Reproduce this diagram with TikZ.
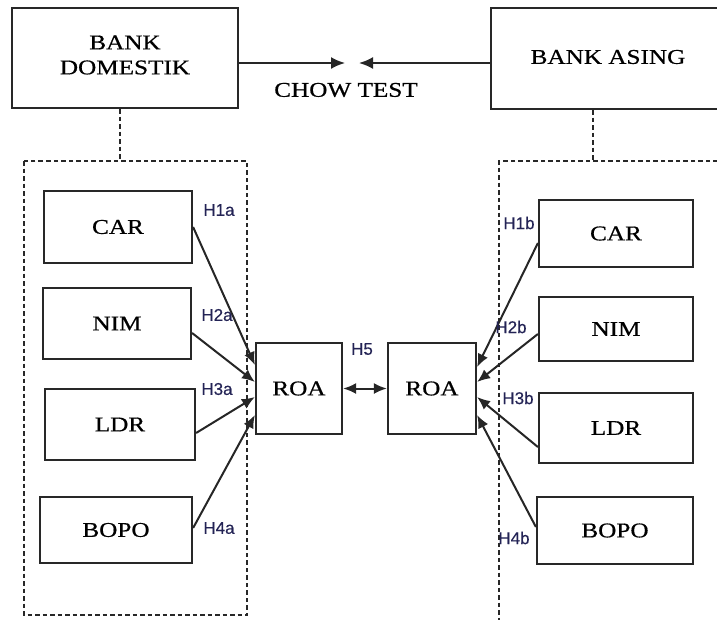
\documentclass[tikz,border=0pt]{standalone}
\usepackage{fontspec}
\setmainfont{Liberation Serif}[FakeStretch=1.2,FakeBold=0.6]
\newfontfamily\hfont{Liberation Sans}[FakeBold=0.3]
\usetikzlibrary{arrows.meta}
\definecolor{hcol}{RGB}{35,35,85}
\definecolor{edgecol}{RGB}{40,40,40}
\tikzset{
  box/.style={draw=edgecol, line width=2.2pt, inner sep=0pt, font=\fontsize{21}{25}\selectfont},
  btext/.style={inner sep=0pt, align=center, font=\fontsize{21}{25}\selectfont},
  grp/.style={draw=edgecol, line width=2pt, dash pattern=on 4.5pt off 3pt},
  hl/.style={font=\hfont\fontsize{17}{20}\selectfont, text=hcol, inner sep=0pt},
  conn/.style={draw=black!85, line width=2pt, -{Latex[length=13pt,width=11pt]}},
  conn2/.style={draw=black!85, line width=2pt, {Latex[length=13pt,width=11pt]}-{Latex[length=13pt,width=11pt]}},
}
\begin{document}
\begin{tikzpicture}[x=1pt,y=-1pt]
\useasboundingbox (0,0) rectangle (717,619);
% top boxes
\node[box, minimum width=226pt, minimum height=100pt] (bd) at (125,58) {};
\node[btext] (bdt) at (125,55) {BANK\\DOMESTIK};
\node[box, minimum width=254pt, minimum height=101pt] (ba) at (618,58.5) {};
\node[btext] (bat) at (608,57) {BANK ASING};
\coordinate (chowL) at (345,63);
\coordinate (chowR) at (359,63);
\draw[conn, -{Latex[length=14pt,width=12pt]}] (bd.east |- chowL) -- (chowL);
\draw[conn, -{Latex[length=14pt,width=12pt]}] (ba.west |- chowR) -- (chowR);
\node[btext] (chow) at (346,90) {CHOW TEST};
% group frames
\coordinate (gl) at (120,161);
\coordinate (gr) at (593,161);
\draw[grp] (bd.south -| gl) -- (gl);
\draw[grp] (ba.south -| gr) -- (gr);
\draw[grp] (24,161) rectangle (247,615);
\draw[grp] (725,161) -- (499,161) -- (499,630);
% left variables
\node[box, minimum width=148pt, minimum height=72pt] (carL) at (118,227) {CAR};
\node[box, minimum width=148pt, minimum height=71pt] (nimL) at (117,323.5) {NIM};
\node[box, minimum width=150pt, minimum height=71pt] (ldrL) at (120,424.5) {LDR};
\node[box, minimum width=152pt, minimum height=66pt] (bopoL) at (116,530) {BOPO};
% ROA
\node[box, minimum width=86pt, minimum height=91pt] (roaL) at (299,388.5) {ROA};
\node[box, minimum width=88pt, minimum height=91pt] (roaR) at (432,388.5) {ROA};
% right variables
\node[box, minimum width=154pt, minimum height=67pt] (carR) at (616,233.5) {CAR};
\node[box, minimum width=154pt, minimum height=64pt] (nimR) at (616,329) {NIM};
\node[box, minimum width=154pt, minimum height=70pt] (ldrR) at (616,428) {LDR};
\node[box, minimum width=156pt, minimum height=67pt] (bopoR) at (615,530.5) {BOPO};
% connectors left
\draw[conn] (carL.east) -- ([yshift=23.5pt]roaL.west);
\draw[conn] ([yshift=-9.5pt]nimL.east) -- ([yshift=6.5pt]roaL.west);
\draw[conn] ([yshift=-8.5pt]ldrL.east) -- ([yshift=-8.5pt]roaL.west);
\draw[conn] ([yshift=2pt]bopoL.east) -- ([yshift=-26.5pt]roaL.west);
% connectors right
\draw[conn] ([yshift=-9.5pt]carR.west) -- ([yshift=21.5pt]roaR.east);
\draw[conn] ([yshift=-5pt]nimR.west) -- ([yshift=6.5pt]roaR.east);
\draw[conn] ([yshift=-19pt]ldrR.west) -- ([yshift=-8.5pt]roaR.east);
\draw[conn] ([yshift=3.5pt]bopoR.west) -- ([yshift=-26.5pt]roaR.east);
\draw[conn2] (roaL.east) -- (roaR.west);
% labels
\node[hl] (h1a) at (219,210) {H1a};
\node[hl] (h2a) at (217,315) {H2a};
\node[hl] (h3a) at (217,389) {H3a};
\node[hl] (h4a) at (219,528) {H4a};
\node[hl] (h5) at (362,349) {H5};
\node[hl] (h1b) at (519,223) {H1b};
\node[hl] (h2b) at (511,327) {H2b};
\node[hl] (h3b) at (518,398) {H3b};
\node[hl] (h4b) at (514,538) {H4b};
\end{tikzpicture}
\end{document}
